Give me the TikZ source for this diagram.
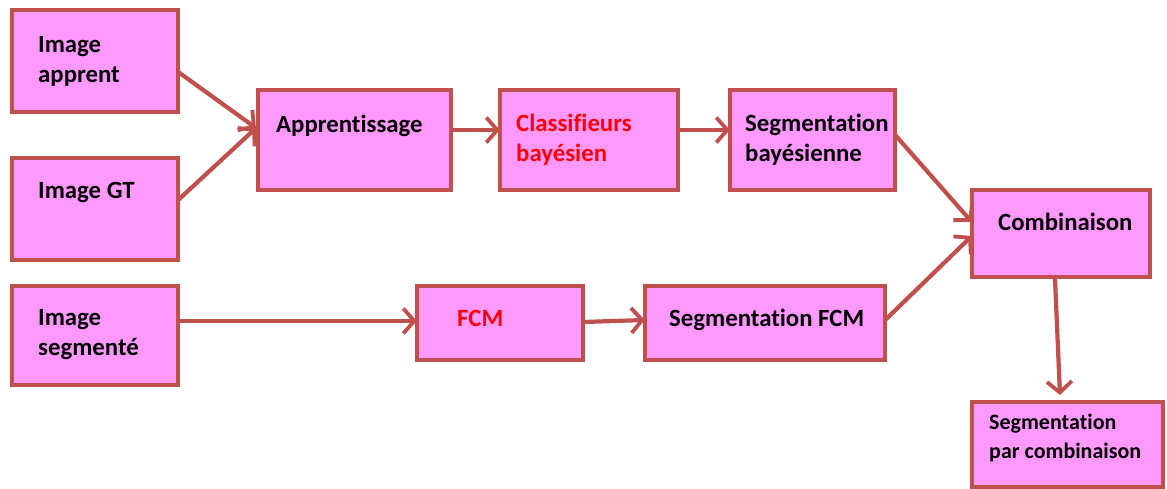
\documentclass[tikz,border=0pt]{standalone}
\usepackage{fontspec}
\setmainfont[Ligatures={NoCommon}]{Carlito}
\usetikzlibrary{arrows.meta,positioning}
\definecolor{boxfill}{HTML}{FF99FF}
\definecolor{boxline}{HTML}{C0504D}
\definecolor{redtext}{HTML}{FF0000}
\tikzset{
  blk/.style={draw=boxline, fill=boxfill, line width=3.8pt, inner sep=0pt},
  lbl/.style={anchor=north west, inner sep=0pt, align=left,
    font=\bfseries\fontsize{24.8}{30}\selectfont},
  conn/.style={draw=boxline, line width=4.2pt,
    -{Straight Barb[length=11pt,width=25pt,line width=3.8pt]}}
}
% box: name, x1, y1, x2, y2 (pixel units, y downwards)
\newcommand{\blkbox}[5]{%
  \path[blk] (#2,#3) rectangle (#4,#5);
  \node[inner sep=0pt, minimum width={(#4-#2)*1pt}, minimum height={(#5-#3)*1pt}]
    (#1) at ({(#2+#4)/2},{(#3+#5)/2}) {};}
\begin{document}
\begin{tikzpicture}[x=1pt,y=-1pt]
\useasboundingbox (0,0) rectangle (1167,489);
\fill[white] (0,0) rectangle (1167,489);

\blkbox{ia}{12}{10}{178}{112}
\blkbox{igt}{12}{158}{178}{260}
\blkbox{iseg}{12}{286}{178}{385}
\blkbox{app}{258}{90}{451}{190}
\blkbox{cls}{500}{90}{678}{190}
\blkbox{sbay}{730}{90}{895}{190}
\blkbox{comb}{972}{190}{1150}{277}
\blkbox{fcm}{417}{286}{583}{360}
\blkbox{sfcm}{645}{286}{885}{360}
\blkbox{spc}{972}{402}{1163}{487}

\node[lbl] (t-ia) at (38,36) {Image\\apprent};
\node[lbl] (t-igt) at (38,182) {Image GT};
\node[lbl] (t-iseg) at (38,309) {Image\\segmenté};
\node[lbl] (t-app) at (276,115) {Apprentissage};
\node[lbl, text=redtext] (t-cls) at (516,114) {Classifieurs\\bayésien};
\node[lbl] (t-sbay) at (745,114) {Segmentation\\bayésienne};
\node[lbl] (t-comb) at (998,213) {Combinaison};
\node[lbl, text=redtext] (t-fcm) at (457,310) {FCM};
\node[lbl] (t-sfcm) at (669,309) {Segmentation FCM};
\node[lbl, font=\bfseries\fontsize{22}{29}\selectfont] (t-spc) at (989,414) {Segmentation\\par combinaison};

\coordinate (app-in) at (256,128);
\draw[conn] (ia.east |- 0,72) -- (app-in);
\draw[conn] (igt.east |- 0,200) -- (app-in);
\draw[conn] (app.east |- 0,130) -- (cls.west |- 0,130);
\draw[conn] (cls.east |- 0,130) -- (sbay.west |- 0,130);
\draw[conn] (sbay.east |- 0,135) -- (comb.west |- 0,222);
\draw[conn] (iseg.east |- 0,321) -- (fcm.west |- 0,321);
\draw[conn] (fcm.east |- 0,322) -- (sfcm.west |- 0,320);
\draw[conn] (sfcm.east |- 0,320) -- (comb.west |- 0,236);
\coordinate (spc-top) at (1060,395);
\draw[conn] (1055,279) -- (spc-top);
\end{tikzpicture}
\end{document}
